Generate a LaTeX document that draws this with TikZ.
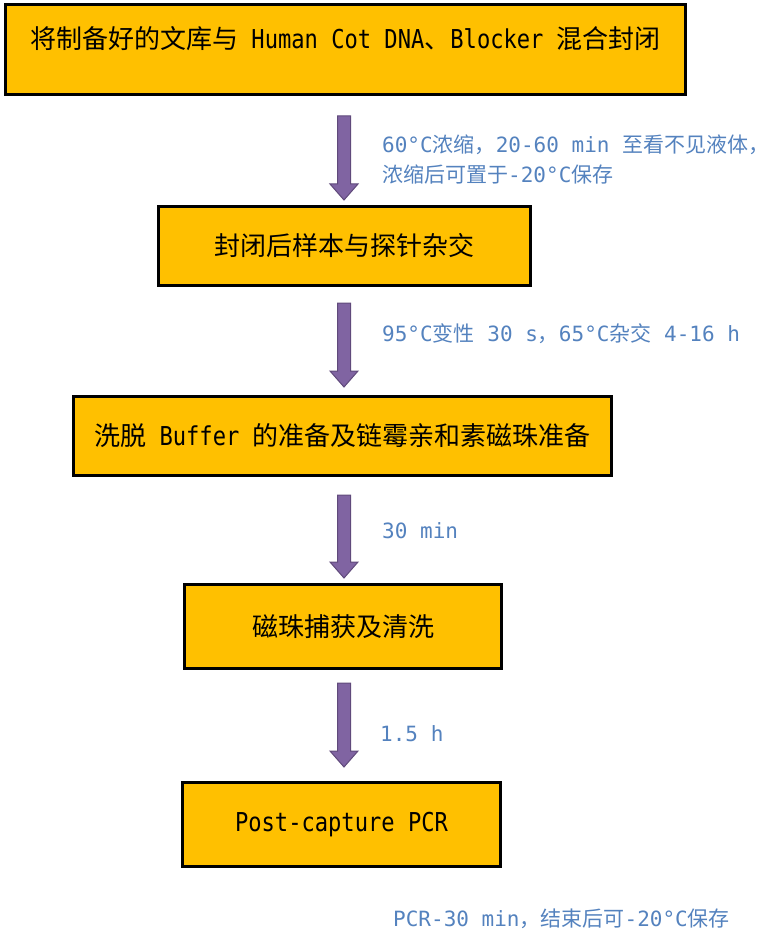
\documentclass[tikz,border=0pt]{standalone}
\usepackage{fontspec}
\setmainfont{Noto Sans CJK SC}
\newfontfamily\lat[FakeStretch=0.85]{DejaVu Sans Mono}
\newfontfamily\latn{DejaVu Sans Mono}
\usetikzlibrary{calc}
\definecolor{boxfill}{RGB}{255,192,0}
\definecolor{arrowfill}{RGB}{128,100,162}
\definecolor{arrowedge}{RGB}{96,74,123}
\definecolor{notecol}{RGB}{84,130,190}
\tikzset{
  stepbox/.style={draw=black, fill=boxfill, line width=3pt, rectangle, inner sep=0pt,
    font=\fontsize{26}{30}\selectfont, text=black},
  note/.style={anchor=base west, inner sep=0pt, text=notecol, font=\fontsize{21}{25}\selectfont},
  blockarrow/.style={fill=arrowfill, draw=arrowedge, line width=1pt, line join=miter,
    to path={let \p1=(\tikztostart), \p2=(\tikztotarget) in
      (\x1-6.5pt,\y1) -- (\x1+6.5pt,\y1) -- (\x1+6.5pt,\y2+16pt) -- (\x1+14pt,\y2+16pt)
      -- (\x2,\y2) -- (\x1-14pt,\y2+16pt) -- (\x1-6.5pt,\y2+16pt) -- cycle}}
}
\begin{document}
\begin{tikzpicture}[x=1pt,y=-1pt]
\useasboundingbox (0,0) rectangle (782,933);
\node[stepbox, minimum width=680pt, minimum height=90pt, text height=22pt, text depth=24pt] (b1) at (345.5,49.5)
  {将制备好的文库与{\lat\ Human Cot DNA}、{\lat Blocker\ }混合封闭};
\node[stepbox, minimum width=372pt, minimum height=79pt] (b2) at (344.5,246) {封闭后样本与探针杂交};
\node[stepbox, minimum width=538pt, minimum height=79pt] (b3) at (342.5,436)
  {洗脱{\lat\ Buffer\ }的准备及链霉亲和素磁珠准备};
\node[stepbox, minimum width=317pt, minimum height=84pt] (b4) at (343,626.5) {磁珠捕获及清洗};
\node[stepbox, minimum width=318pt, minimum height=84pt] (b5) at (341.5,824.5) {\lat Post-capture PCR};

\coordinate (ax) at (344,0);
\draw[blockarrow] ($(b1.south -| ax)+(0,20)$) to ($(b2.north -| ax)+(0,-5)$);
\draw[blockarrow] ($(b2.south -| ax)+(0,16)$) to ($(b3.north -| ax)+(0,-8)$);
\draw[blockarrow] ($(b3.south -| ax)+(0,18)$) to ($(b4.north -| ax)+(0,-5)$);
\draw[blockarrow] ($(b4.south -| ax)+(0,13)$) to ($(b5.north -| ax)+(0,-14)$);

\node[note] (n1a) at (382,153) {{\latn 60°C}浓缩，{\latn 20-60 min }至看不见液体，};
\node[note] (n1b) at (382,183) {浓缩后可置于{\latn -20°C}保存};
\node[note] (n2) at (382,341) {{\latn 95°C}变性{\latn\ 30 s}，{\latn 65°C}杂交{\latn\ 4-16 h}};
\node[note] (n3) at (382,538) {\latn 30 min};
\node[note] (n4) at (380,741) {\latn 1.5 h};
\node[note] (n5) at (393,926) {{\latn PCR-30 min}，结束后可{\latn -20°C}保存};
\end{tikzpicture}
\end{document}
